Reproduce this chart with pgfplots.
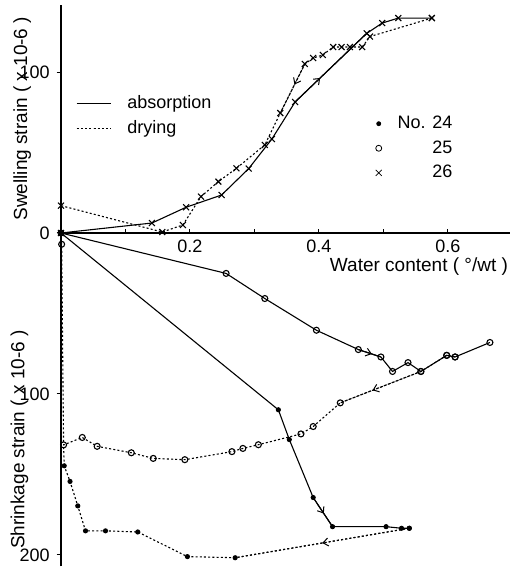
\documentclass[border=0pt]{standalone}
\usepackage{fontspec}
\setmainfont{Liberation Sans}
\usepackage{pgfplots}
\pgfplotsset{compat=1.18}
\usetikzlibrary{arrows.meta,decorations.markings}
\tikzset{
  arr/.style={postaction={decorate}, decoration={markings, mark=at position #1 with {\arrow{Straight Barb[length=2.6pt,width=4pt,line width=0.5pt]}}}},
  abs/.style={black, line width=0.55pt, solid},
  dry/.style={black, line width=0.55pt, dash pattern=on 1pt off 1.1pt},
}
\pgfplotsset{
  m24/.style={mark=*, mark size=1pt, mark options={solid, fill=black}},
  m25/.style={mark=o, mark size=1.5pt, mark options={solid, fill=white}},
  m26/.style={mark=x, mark size=2.1pt, mark options={solid}},
}
\begin{document}
\begin{tikzpicture}[font=\fontsize{9}{11}\selectfont]
\begin{axis}[
  x=322.5pt, y=0.805pt,
  xmin=0, xmax=0.696, ymin=-207, ymax=141.5,
  axis lines=middle,
  axis line style={line width=0.6pt, -},
  clip=false,
  xtick={0.1,0.2,0.3,0.4,0.5,0.6},
  xticklabels={,0.2,,0.4,,0.6},
  ytick={-200,-100,0,100},
  yticklabels={200,100,0,100},
  hide obscured y ticks=false,
  xtick align=inside, ytick align=outside,
  major tick length=2.2pt,
  tick style={black, line width=0.5pt},
  tick label style={font=\fontsize{9}{11}\selectfont},
  legend style={draw=none, fill=none, at={(axis description cs:0.791,0.745)}, anchor=center, font=\fontsize{9}{11}\selectfont, row sep=0.5pt,
    /tikz/every odd column/.append style={column sep=6pt}},
  legend cell align=right,
]
\addlegendimage{only marks, m24}
\addlegendimage{only marks, m25}
\addlegendimage{only marks, m26}
\legend{No. 24,25,26}
\coordinate (O) at (axis cs:0,0);

% sample 26 (swelling)
\addplot[abs, m26] coordinates {
(0,0) (0.141,6.2) (0.194,16) (0.249,23.6) (0.291,40) (0.327,58.4) (0.363,81.4)
(0.474,124) (0.498,130.4) (0.523,133.5) (0.575,133.5)};
\addplot[dry, m26] coordinates {
(0.575,133.5) (0.479,122) (0.467,115.5) (0.448,115.5) (0.435,115.5) (0.422,115.5)
(0.406,110.6) (0.391,108.7) (0.378,105) (0.340,74.5) (0.316,54.7) (0.272,40.2)
(0.244,31.9) (0.217,22.6) (0.189,5) (0.157,0.6) (0,17)};

% sample 25 (shrinkage, plotted downward)
\addplot[abs, m25] coordinates {
(0,0) (0.256,-25.1) (0.316,-40.7) (0.396,-60.4) (0.461,-72.4) (0.496,-77)
(0.514,-86) (0.538,-80.5) (0.558,-86) (0.598,-76) (0.611,-77) (0.665,-68)};
\addplot[dry, m25] coordinates {
(0.611,-77) (0.598,-76) (0.558,-86) (0.433,-105.5) (0.391,-120.2) (0.372,-124.8)
(0.306,-131.5) (0.282,-133.8) (0.265,-135.8) (0.192,-140.8) (0.143,-140)
(0.109,-136.5) (0.056,-132.5) (0.033,-127) (0.004,-131.6) (0.001,-7)};
\addplot[dry] coordinates {(0.001,-7) (0,0)};

% sample 24
\addplot[abs, m24] coordinates {
(0,0) (0.337,-109.8) (0.354,-128.3) (0.391,-164.3) (0.421,-182.4) (0.504,-182.4)
(0.528,-183.4) (0.540,-183.4)};
\addplot[dry, m24] coordinates {
(0.540,-183.4) (0.270,-201.7) (0.196,-201) (0.119,-185.7) (0.069,-185) (0.038,-185)
(0.026,-169.5) (0.014,-154.3) (0.005,-144.6)};
\addplot[dry] coordinates {(0.005,-144.6) (0.004,-131.6)};

% direction arrows
\addplot[abs, arr=0.35] coordinates {(0.363,81.4) (0.474,124)};
\addplot[dry, arr=0.42] coordinates {(0.378,105) (0.340,74.5)};
\addplot[abs, arr=0.6] coordinates {(0.461,-72.4) (0.496,-77)};
\addplot[dry, arr=0.6] coordinates {(0.558,-86) (0.433,-105.5)};
\addplot[abs, arr=0.55] coordinates {(0.391,-164.3) (0.421,-182.4)};
\addplot[dry, arr=0.5] coordinates {(0.540,-183.4) (0.270,-201.7)};

% axis labels
\node[rotate=90, font=\fontsize{9.5}{11}\selectfont] at (axis cs:-0.060,71) {Swelling strain ( x 10-6 )};
\node[rotate=90, font=\fontsize{9.5}{11}\selectfont] at (axis cs:-0.0645,-128.3) {Shrinkage strain ( x 10-6 )};
\node[font=\fontsize{9.5}{11}\selectfont] at (axis cs:0.555,-21) {Water content ( °/wt )};
\end{axis}
\begin{axis}[
  x=322.5pt, y=0.805pt,
  xmin=0, xmax=0.696, ymin=-207, ymax=141.5,
  hide axis,
  legend style={draw=none, fill=none, at={(axis description cs:0.189,0.802)}, anchor=center, font=\fontsize{9}{11}\selectfont, row sep=0.5pt,
    /tikz/every odd column/.append style={column sep=6pt}},
  legend cell align=left,
]
\addlegendimage{abs}
\addlegendimage{dry}
\legend{absorption,drying}
\end{axis}
\pgfresetboundingbox
\path[use as bounding box] ([shift={(-30.5pt,-168pt)}]O) rectangle ([shift={(224.5pt,116.5pt)}]O);
\end{tikzpicture}
\end{document}
